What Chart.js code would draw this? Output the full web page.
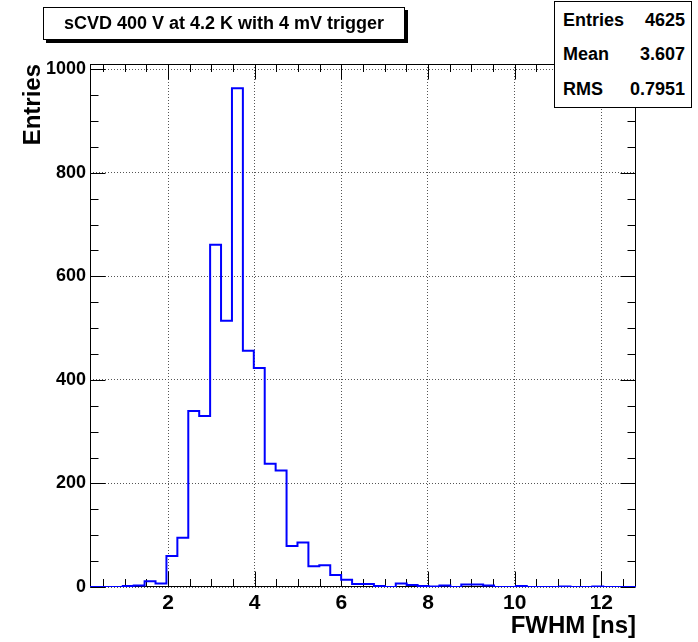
<!DOCTYPE html>
<html>
<head>
<meta charset="utf-8">
<script src="https://cdn.jsdelivr.net/npm/chart.js@4/dist/chart.umd.min.js"></script>
<style>
html,body{margin:0;padding:0;background:#fff;}
#wrap{position:relative;width:698px;height:642px;overflow:hidden;}
#c{position:absolute;left:0;top:0;}
.box{position:absolute;background:#fff;border:1px solid #000;box-sizing:border-box;
  font-family:"Liberation Sans",Arial,Helvetica,sans-serif;font-weight:bold;color:#000;}
#title{left:43px;top:7px;width:362px;height:33px;box-shadow:3px 3px 0 #000;font-size:18px;text-align:center;line-height:31px;white-space:nowrap;}
#stats{left:554px;top:1px;width:138px;height:107px;font-size:18px;}
.row{position:absolute;left:8px;right:6px;height:22px;line-height:22px;white-space:nowrap;}
.row .l{float:left;}
.row .v{float:right;}
</style>
</head>
<body>
<div id="wrap">
  <canvas id="c" width="698" height="642"></canvas>
  <div id="title" class="box"></div>
  <div id="stats" class="box"></div>
</div>
<script>
// ---- data ----
const titleText = 'sCVD 400 V at 4.2 K with 4 mV trigger';
const xAxisTitle = 'FWHM [ns]';
const yAxisTitle = 'Entries';
const xMin = 0.2;
const xMax = 12.8;
const binWidth = 0.252;
const counts = [0, 0, 0, 2, 3, 11, 7, 60, 95, 340,
                330, 661, 514, 963, 456, 423, 238, 225, 79, 86,
                40, 42, 23, 14, 6, 6, 2, 0, 7, 4,
                2, 1, 3, 0, 5, 5, 3, 0, 0, 2,
                0, 0, 0, 1, 0, 0, 1, 0, 0, 0];
const xTickValues = [2, 4, 6, 8, 10, 12];
const xTickLabels = ['2', '4', '6', '8', '10', '12'];
const yTickValues = [0, 200, 400, 600, 800, 1000];
const yTickLabels = ['0', '200', '400', '600', '800', '1000'];
const yMax = 1010;
const statsLabels = ['Entries', 'Mean', 'RMS'];
const statsValues = ['4625', '3.607', '0.7951'];

// ---- overlays (real text) ----
document.getElementById('title').textContent = titleText;
const stats = document.getElementById('stats');
const rowTops = [7, 41, 76];
statsLabels.forEach((lab, i) => {
  const r = document.createElement('div');
  r.className = 'row';
  r.style.top = rowTops[i] + 'px';
  const l = document.createElement('span'); l.className = 'l'; l.textContent = lab;
  const v = document.createElement('span'); v.className = 'v'; v.textContent = statsValues[i];
  r.appendChild(l); r.appendChild(v);
  stats.appendChild(r);
});

// ---- histogram points (step outline) ----
const points = counts.map((c, i) => ({x: xMin + i * binWidth, y: c}));
points.push({x: xMax, y: counts[counts.length - 1]});

const FONT = '"Liberation Sans", Arial, Helvetica, sans-serif';

const framePlugin = {
  id: 'rootFrame',
  beforeDatasetsDraw(chart) {
    const {ctx, chartArea: a, scales: {x, y}} = chart;
    ctx.save();
    ctx.strokeStyle = '#000';
    ctx.lineWidth = 1;
    const L = Math.round(a.left) + 0.5, R = Math.round(a.right) - 0.5;
    const T = Math.round(a.top) + 0.5, B = Math.round(a.bottom) - 0.5;
    ctx.strokeRect(L, T, R - L, B - T);
    ctx.beginPath();
    // x ticks (bottom + top)
    for (let v = 0.5; v <= xMax; v += 0.5) {
      const px = Math.round(x.getPixelForValue(v)) + 0.5;
      const major = xTickValues.includes(v);
      const len = major ? 15 : 7.5;
      ctx.moveTo(px, B); ctx.lineTo(px, B - len);
      ctx.moveTo(px, T); ctx.lineTo(px, T + len);
    }
    // y ticks (left + right)
    for (let v = 0; v <= yMax; v += 50) {
      const py = Math.round(y.getPixelForValue(v)) + 0.5;
      const major = yTickValues.includes(v);
      const len = major ? 15 : 8;
      ctx.moveTo(L, py); ctx.lineTo(L + len, py);
      ctx.moveTo(R, py); ctx.lineTo(R - len, py);
    }
    ctx.stroke();
    ctx.restore();
  }
};

new Chart(document.getElementById('c'), {
  type: 'line',
  data: {
    datasets: [{
      data: points,
      stepped: true,
      borderColor: '#0000ff',
      borderWidth: 2,
      pointRadius: 0,
      fill: false,
      tension: 0
    }]
  },
  options: {
    responsive: false,
    animation: false,
    devicePixelRatio: 1,
    layout: {padding: {left: 0, top: 64, right: 62, bottom: 0}},
    plugins: {legend: {display: false}, tooltip: {enabled: false}, title: {display: false}},
    scales: {
      x: {
        type: 'linear',
        min: xMin,
        max: xMax,
        afterBuildTicks: s => { s.ticks = xTickValues.map(v => ({value: v})); },
        afterFit: s => { s.height = 55; },
        ticks: {
          autoSkip: false, maxRotation: 0, padding: 4, color: '#000',
          font: {family: FONT, size: 21, weight: 'bold'},
          callback: v => { const i = xTickValues.indexOf(v); return i >= 0 ? xTickLabels[i] : ''; }
        },
        grid: {drawTicks: false, color: '#555', lineWidth: 1},
        border: {display: false, dash: [1, 2]},
        title: {display: true, text: xAxisTitle, align: 'end', color: '#000',
          font: {family: FONT, size: 24, weight: 'bold'}, padding: {top: 0, bottom: 1}}
      },
      y: {
        type: 'linear',
        min: 0,
        max: yMax,
        afterBuildTicks: s => { s.ticks = yTickValues.map(v => ({value: v})); },
        afterFit: s => { s.width = 90; },
        ticks: {
          autoSkip: false, padding: 4, color: '#000',
          font: {family: FONT, size: 18, weight: 'bold'},
          callback: v => { const i = yTickValues.indexOf(v); return i >= 0 ? yTickLabels[i] : ''; }
        },
        grid: {drawTicks: false, color: '#555', lineWidth: 1},
        border: {display: false, dash: [1, 2]},
        title: {display: true, text: yAxisTitle, align: 'end', color: '#000',
          font: {family: FONT, size: 24, weight: 'bold'}, padding: {top: 19, bottom: 0}}
      }
    }
  },
  plugins: [framePlugin]
});
</script>
</body>
</html>
